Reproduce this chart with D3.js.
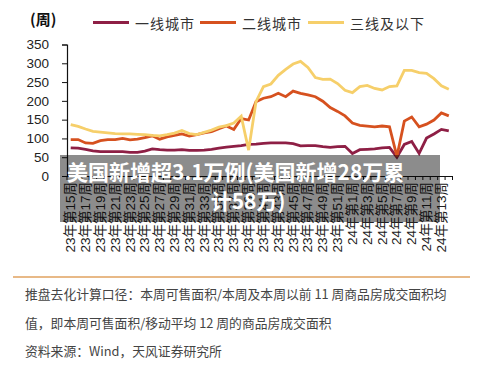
<!DOCTYPE html>
<html><head><meta charset="utf-8">
<script src="https://cdn.jsdelivr.net/npm/d3@7/dist/d3.min.js"></script>
<style>body{margin:0;background:#fff}</style>
</head><body>
<svg id="c" width="500" height="379"></svg>
<script>
const categories = [
"23年第15周","23年第16周","23年第17周","23年第18周","23年第19周","23年第20周","23年第21周","23年第22周",
"23年第23周","23年第24周","23年第25周","23年第26周","23年第27周","23年第28周","23年第29周","23年第30周",
"23年第31周","23年第32周","23年第33周","23年第34周","23年第35周","23年第36周","23年第37周","23年第38周",
"23年第39周","23年第40周","23年第41周","23年第42周","23年第43周","23年第44周","23年第45周","23年第46周",
"23年第47周","23年第48周","23年第49周","23年第50周","23年第51周","23年第52周",
"24年第1周","24年第2周","24年第3周","24年第4周","24年第5周","24年第6周","24年第7周","24年第8周",
"24年第9周","24年第10周","24年第11周","24年第12周","24年第13周","24年第14周"];
const tier1 = [75,74,71,67,65,65,65,65,63,63,66,72,70,69,69,70,68,68,69,71,74,77,79,81,84,85,87,88,88,88,86,80,81,81,78,76,78,79,60,70,71,72,75,76,50,84,92,60,101,112,124,120];
const tier2 = [97,97,88,87,94,97,97,100,96,98,102,107,98,104,108,112,106,110,115,118,126,133,124,153,149,198,207,211,220,211,226,220,216,211,199,182,172,160,141,135,133,131,133,131,52,146,157,131,138,149,168,160];
const tier3 = [137,132,125,119,117,115,113,112,112,111,110,108,107,110,114,121,113,110,116,122,130,134,141,159,69,198,238,245,268,284,298,305,289,262,257,258,246,228,222,238,241,233,229,238,240,281,281,275,273,259,240,231];
const seriesNames = ["一线城市","二线城市","三线及以下"];
const yTicks = [0,50,100,150,200,250,300,350];
const unitLabel = "(周)";
const overlayLines = ["美国新增超3.1万例(美国新增28万累","计58万)"];
const noteLines = ["推盘去化计算口径：本周可售面积/本周及本周以前 11 周商品房成交面积均","值，即本周可售面积/移动平均 12 周的商品房成交面积","资料来源：Wind，天风证券研究所"];

const colors = ["#8E1F45","#D6511F","#F6CF6A"];
const svg = d3.select("#c");
const latin = "'Liberation Sans', 'Noto Sans CJK SC', sans-serif";
const cjk = "'Noto Sans CJK SC', sans-serif";

const x = d3.scaleBand().domain(categories).range([67, 452.5]).padding(0);
const y = d3.scaleLinear().domain([0,350]).range([176, 44.5]);
const cx = d => x(d) + x.bandwidth()/2;

// y axis
const yAxis = svg.append("g").attr("transform","translate(67,0)")
  .call(d3.axisLeft(y).tickValues(yTicks).tickSize(5).tickPadding(13));
yAxis.select(".domain").attr("stroke","#111").attr("stroke-width",1.2);
yAxis.selectAll(".tick line").attr("stroke","#111");
yAxis.selectAll("text").attr("font-family",latin).attr("font-size",13.5).attr("fill","#222");

// x axis
const xAxis = svg.append("g").attr("transform","translate(0,176)")
  .call(d3.axisBottom(x).tickValues([]).tickSizeOuter(0));
xAxis.select(".domain").attr("stroke","#111").attr("stroke-width",1.2);
// ticks between categories
const bounds = categories.map(c => x(c)).concat([x(categories[categories.length-1]) + x.bandwidth()]);
xAxis.selectAll("line.b").data(bounds).enter().append("line").attr("class","b")
  .attr("x1",d=>d).attr("x2",d=>d).attr("y1",0).attr("y2",4).attr("stroke","#111");
// labels every second category
xAxis.selectAll("text.l").data(categories.filter((c,i)=>i%2===0)).enter().append("text").attr("class","l")
  .attr("transform",d=>`translate(${cx(d)},6) rotate(-90)`)
  .attr("text-anchor","end").attr("dominant-baseline","central")
  .attr("font-family",latin).attr("font-size",13.5).attr("fill","#222").text(d=>d);

// lines
const line = d3.line().x((d,i)=>cx(categories[i])).y(d=>y(d));
[tier1,tier2,tier3].forEach((s,k)=>{
  svg.append("path").datum(s).attr("d",line).attr("fill","none")
    .attr("stroke",colors[k]).attr("stroke-width",2.8).attr("stroke-linejoin","miter");
});

// legend
svg.append("text").attr("x",30).attr("y",25).attr("font-family",cjk).attr("font-weight","bold")
  .attr("font-size",15).attr("fill","#111").text(unitLabel);
const legX = [93,200,308];
seriesNames.forEach((n,k)=>{
  svg.append("line").attr("x1",legX[k]).attr("x2",legX[k]+36).attr("y1",22.5).attr("y2",22.5)
    .attr("stroke",colors[k]).attr("stroke-width",3);
  svg.append("text").attr("x",legX[k]+42).attr("y",29).attr("font-family",cjk)
    .attr("font-size",14).attr("letter-spacing",1).attr("fill","#333").text(n);
});

// overlay
svg.append("rect").attr("x",60).attr("y",155).attr("width",380).attr("height",67)
  .attr("fill","#000").attr("fill-opacity",0.45);
svg.append("text").attr("x",67).attr("y",180).attr("font-family",cjk).attr("font-weight","bold")
  .attr("font-size",21).attr("fill","#fff").text(overlayLines[0]);
svg.append("text").attr("x",248).attr("y",209).attr("text-anchor","middle").attr("font-family",cjk).attr("font-weight","bold")
  .attr("font-size",21).attr("fill","#fff").text(overlayLines[1]);

// notes
svg.append("line").attr("x1",13).attr("x2",470).attr("y1",277).attr("y2",277)
  .attr("stroke","#E0A25F").attr("stroke-width",1.6);
const noteY = [298.5,328,356];
noteLines.forEach((t,i)=>{
  svg.append("text").attr("x",25).attr("y",noteY[i]).attr("font-family",cjk)
    .attr("font-size",12.8).attr("fill","#444").text(t);
});
</script>
</body></html>
